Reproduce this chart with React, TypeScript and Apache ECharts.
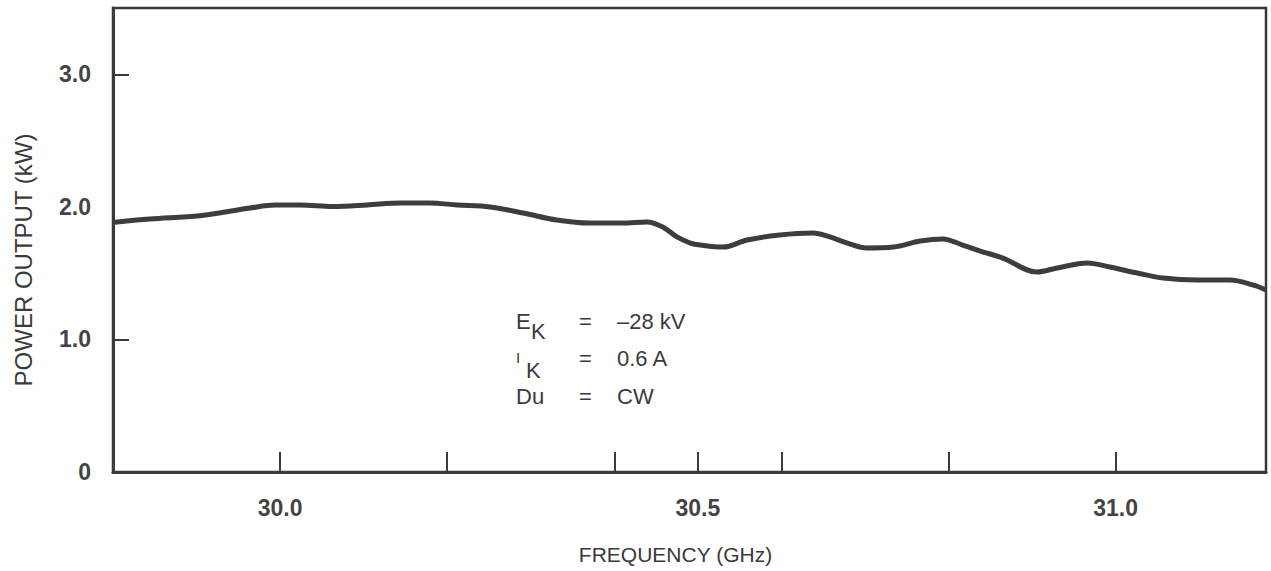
import React, { useEffect, useRef } from "react";
import * as echarts from "echarts";

// Frequency (GHz) and power output (kW)
const freqGHz = [
  29.8, 29.844, 29.904, 29.964, 29.994, 30.024, 30.063, 30.104, 30.144, 30.179,
  30.212, 30.251, 30.291, 30.331, 30.371, 30.41, 30.439, 30.458, 30.475, 30.491,
  30.503, 30.53, 30.559, 30.598, 30.638, 30.658, 30.679, 30.702, 30.734, 30.766,
  30.793, 30.817, 30.838, 30.865, 30.906, 30.93, 30.966, 30.993, 31.026, 31.057,
  31.097, 31.137, 31.164, 31.18,
];
const powerKW = [
  1.882, 1.908, 1.933, 1.991, 2.014, 2.014, 2.003, 2.014, 2.029, 2.029,
  2.014, 1.999, 1.954, 1.901, 1.878, 1.878, 1.886, 1.848, 1.773, 1.727,
  1.712, 1.697, 1.75, 1.788, 1.803, 1.773, 1.727, 1.69, 1.697, 1.742,
  1.758, 1.712, 1.667, 1.614, 1.509, 1.539, 1.577, 1.546, 1.501, 1.463,
  1.448, 1.448, 1.411, 1.373,
];

const xTickValues = [30.0, 30.2, 30.4, 30.5, 30.6, 30.8, 31.0];
const xLabelValues = [30.0, 30.5, 31.0];
const yTickValues = [1.0, 3.0];
const yLabelValues = [0, 1.0, 2.0, 3.0];

const condSymbols = ["E", "I", "Du"];
const condSubs = ["K", "K", ""];
const condValues = ["\u201328 kV", "0.6 A", "CW"];

const INK = "#3a3a3a";
const FONT = "'Liberation Sans', Arial, sans-serif";

export default function App() {
  const ref = useRef<HTMLDivElement>(null);

  useEffect(() => {
    if (!ref.current) return;
    const chart = echarts.init(ref.current, undefined, { renderer: "svg" });

    const rowY = [321, 358, 396];
    const graphic: any[] = [];
    condSymbols.forEach((s, i) => {
      graphic.push({
        type: "text",
        x: 516,
        y: i === 1 ? 357 : rowY[i],
        style: {
          text: s,
          font: `${i === 1 ? 15 : 22}px ${FONT}`,
          fill: INK,
          verticalAlign: "middle",
        },
      });
      if (condSubs[i]) {
        graphic.push({
          type: "text",
          x: i === 1 ? 526 : 531,
          y: rowY[i] + (i === 1 ? 12 : 10),
          style: {
            text: condSubs[i],
            font: `22px ${FONT}`,
            fill: INK,
            verticalAlign: "middle",
          },
        });
      }
      graphic.push({
        type: "text",
        x: 579,
        y: rowY[i],
        style: { text: "=", font: `22px ${FONT}`, fill: INK, verticalAlign: "middle" },
      });
      graphic.push({
        type: "text",
        x: 617,
        y: rowY[i],
        style: { text: condValues[i], font: `22px ${FONT}`, fill: INK, verticalAlign: "middle" },
      });
    });

    chart.setOption({
      animation: false,
      backgroundColor: "#ffffff",
      grid: {
        left: 113,
        right: 5,
        top: 8,
        bottom: 99,
        show: true,
        borderColor: INK,
        borderWidth: 2.5,
        containLabel: false,
      },
      xAxis: {
        type: "value",
        min: 29.8,
        max: 31.18,
        name: "FREQUENCY (GHz)",
        nameLocation: "middle",
        nameGap: 72,
        nameTextStyle: { fontFamily: FONT, fontSize: 21, color: INK, padding: [0, 28, 0, 0] },
        axisLine: { show: true, lineStyle: { color: INK, width: 3 } },
        axisTick: {
          show: true,
          inside: true,
          length: 20,
          customValues: xTickValues,
          lineStyle: { color: INK, width: 2 },
        },
        axisLabel: {
          customValues: xLabelValues,
          margin: 24,
          fontFamily: FONT,
          fontSize: 23,
          fontWeight: "bold",
          color: "#444",
          formatter: (v: number) => v.toFixed(1),
        },
        splitLine: { show: false },
      },
      yAxis: {
        type: "value",
        min: 0,
        max: 3.5,
        name: "POWER OUTPUT (kW)",
        nameLocation: "middle",
        nameGap: 78,
        nameTextStyle: { fontFamily: FONT, fontSize: 24, color: INK, padding: [0, 40, 0, 0] },
        axisLine: { show: true, lineStyle: { color: INK, width: 3 } },
        axisTick: {
          show: true,
          inside: true,
          length: 16,
          customValues: yTickValues,
          lineStyle: { color: INK, width: 2 },
        },
        axisLabel: {
          customValues: yLabelValues,
          margin: 22,
          fontFamily: FONT,
          fontSize: 23,
          fontWeight: "bold",
          color: "#444",
          formatter: (v: number) => (v === 0 ? "0" : v.toFixed(1)),
        },
        splitLine: { show: false },
      },
      series: [
        {
          type: "line",
          data: freqGHz.map((f, i) => [f, powerKW[i]]),
          smooth: 0.35,
          showSymbol: false,
          lineStyle: { color: "#3d3d3d", width: 5 },
        },
      ],
      graphic,
    });

    return () => chart.dispose();
  }, []);

  return (
    <div
      ref={ref}
      style={{ position: "fixed", left: 0, top: 0, width: 1271, height: 571, background: "#fff" }}
    />
  );
}
